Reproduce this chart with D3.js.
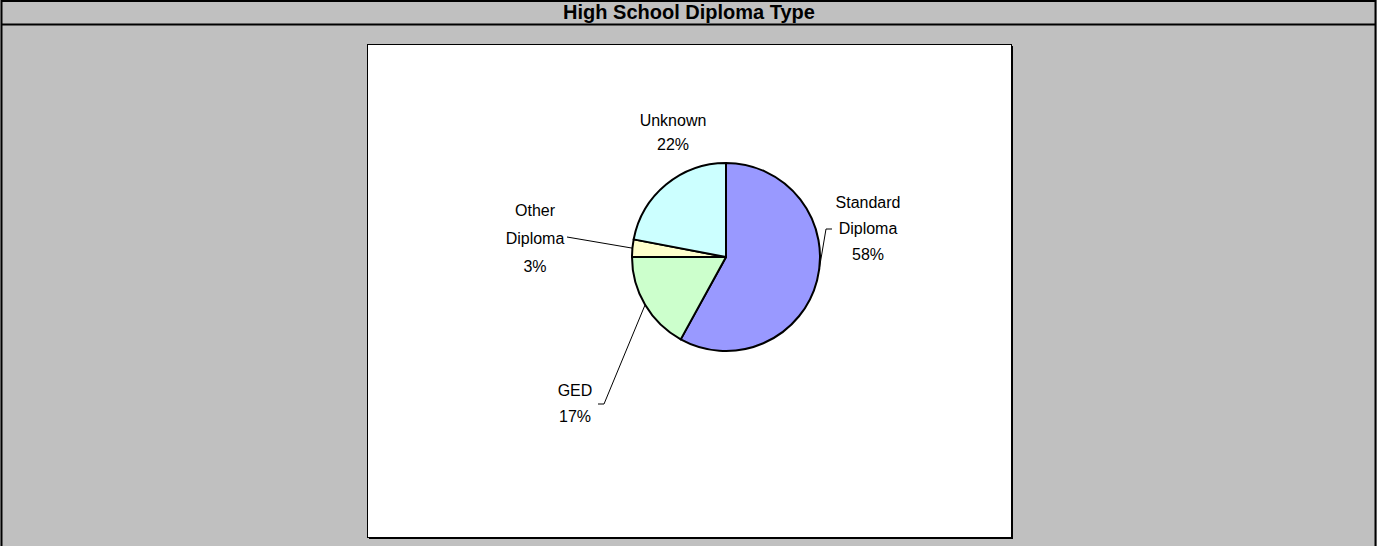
<!DOCTYPE html>
<html>
<head>
<meta charset="utf-8">
<script src="https://cdn.jsdelivr.net/npm/d3@7"></script>
<style>
  html, body { margin: 0; padding: 0; background: #C0C0C0; }
  svg { display: block; }
  text { font-family: "Liberation Sans", Arial, sans-serif; }
</style>
</head>
<body>
<svg id="chart" width="1377" height="546"></svg>
<script>
// ---- data ----
const title = "High School Diploma Type";
const categories = ["Standard Diploma", "GED", "Other Diploma", "Unknown"];
const values = [58, 17, 3, 22];
const labelLines = [["Standard", "Diploma", "58%"], ["GED", "17%"], ["Other", "Diploma", "3%"], ["Unknown", "22%"]];
const colors = ["#9999FF", "#CCFFCC", "#FFFFCC", "#CCFFFF"];

// ---- layout ----
const W = 1377, H = 546;
const svg = d3.select("#chart");
const cx = 726, cy = 257, R = 94;

svg.append("rect").attr("x", 0).attr("y", 0).attr("width", W).attr("height", H).attr("fill", "#C0C0C0");

// outer frame
svg.append("path")
  .attr("d", `M1.5,${H} V1 H1375.5 V${H}`)
  .attr("fill", "none").attr("stroke", "#000").attr("stroke-width", 2);
svg.append("line").attr("x1", 1.5).attr("x2", 1375.5).attr("y1", 24.5).attr("y2", 24.5)
  .attr("stroke", "#000").attr("stroke-width", 2);

svg.append("text").attr("x", 689).attr("y", 18.5)
  .attr("text-anchor", "middle").attr("font-weight", "bold").attr("font-size", 20)
  .text(title);

// white chart box with shadow
const bx = 367.5, by = 44.5, bw = 644, bh = 493;
svg.append("rect").attr("x", bx + 1.5).attr("y", by + 1.5).attr("width", bw).attr("height", bh).attr("fill", "#000");
svg.append("rect").attr("x", bx).attr("y", by).attr("width", bw).attr("height", bh)
  .attr("fill", "#fff").attr("stroke", "#000").attr("stroke-width", 1);

// pie
const pie = d3.pie().sort(null).value(d => d.v);
const arcs = pie(categories.map((c, i) => ({ c, v: values[i], i })));
const arc = d3.arc().innerRadius(0).outerRadius(R);
const g = svg.append("g").attr("transform", `translate(${cx},${cy})`);
g.selectAll("path.slice").data(arcs).join("path")
  .attr("class", "slice")
  .attr("d", arc)
  .attr("fill", d => colors[d.data.i])
  .attr("stroke", "#000").attr("stroke-width", 2).attr("stroke-linejoin", "round");

// labels (positions are layout only)
const labelPos = [
  { x: 868, y: 208, lh: 26, anchorAngle: 98, leader: [[826, 229], [832, 229]] },
  { x: 575, y: 396, lh: 26, anchorAngle: null, leader: [[604, 404], [598, 404]] },
  { x: 535, y: 216, lh: 28, anchorAngle: null, leader: [[567, 237]] },
  { x: 673, y: 126, lh: 24, anchorAngle: null, leader: null }
];

const edgePt = (d, p) => {
  const a = p.anchorAngle != null ? p.anchorAngle * Math.PI / 180 : (d.startAngle + d.endAngle) / 2;
  return [cx + R * Math.sin(a), cy - R * Math.cos(a)];
};

arcs.forEach((d, i) => {
  const p = labelPos[i];
  if (p.leader) {
    const pts = [edgePt(d, p)].concat(p.leader);
    svg.append("path").attr("d", d3.line()(pts))
      .attr("fill", "none").attr("stroke", "#000").attr("stroke-width", 1);
  }
  const t = svg.append("text").attr("text-anchor", "middle").attr("font-size", 16).attr("fill", "#000");
  labelLines[i].forEach((ln, k) => {
    t.append("tspan").attr("x", p.x).attr("y", p.y + k * p.lh).text(ln);
  });
});
</script>
</body>
</html>
